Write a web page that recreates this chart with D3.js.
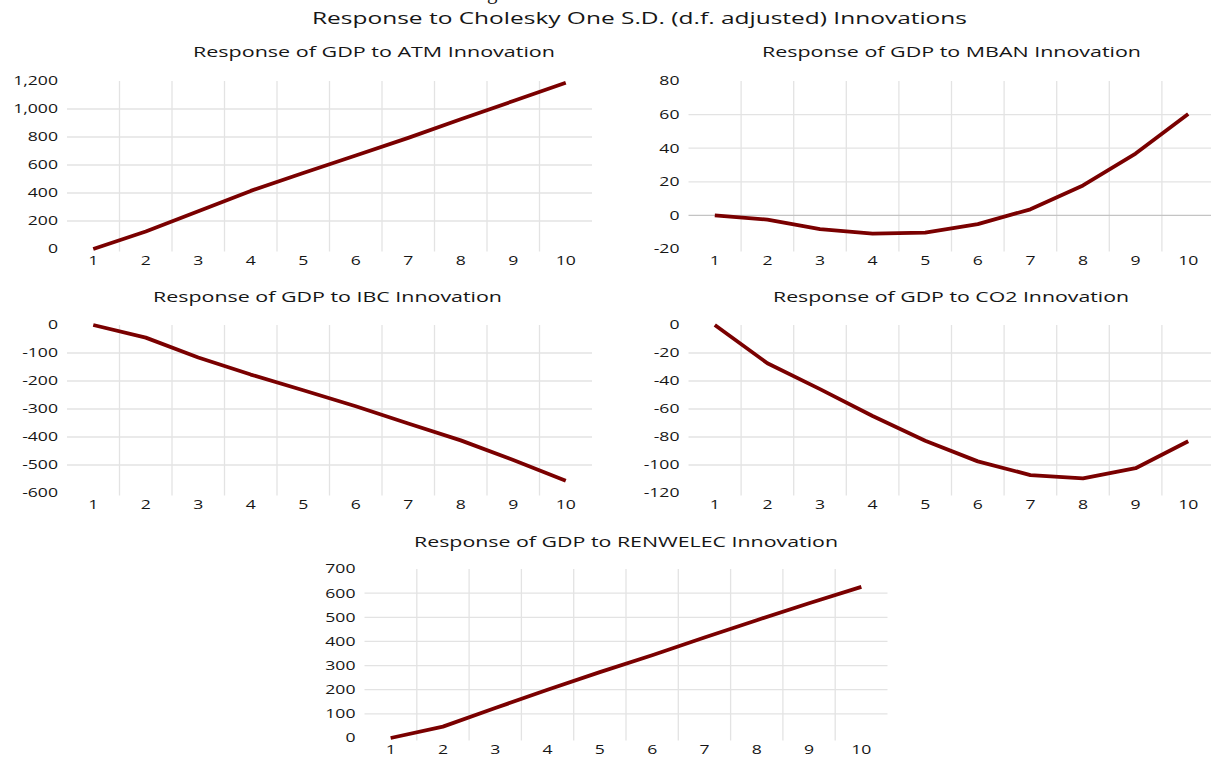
<!DOCTYPE html>
<html>
<head>
<meta charset="utf-8">
<script src="https://cdn.jsdelivr.net/npm/d3@7"></script>
<style>
  html, body { margin: 0; padding: 0; background: #ffffff; }
  svg { display: block; }
  text { font-family: "Open Sans", "Liberation Sans", sans-serif; fill: #161616; }
</style>
</head>
<body>
<svg id="chart" width="1211" height="757"></svg>
<script>
// ---------------- data ----------------
const mainTitle = "Response to Cholesky One S.D. (d.f. adjusted) Innovations";
const steps = ["1", "2", "3", "4", "5", "6", "7", "8", "9", "10"];

const atmTitle = "Response of GDP to ATM Innovation";
const atmValues = [0, 125, 270, 415, 543, 668, 794, 927, 1057, 1188];
const atmTicks = [0, 200, 400, 600, 800, 1000, 1200];

const mbanTitle = "Response of GDP to MBAN Innovation";
const mbanValues = [0, -2.5, -8.2, -10.8, -10.2, -5.2, 3.6, 17.8, 36.8, 60.3];
const mbanTicks = [-20, 0, 20, 40, 60, 80];

const ibcTitle = "Response of GDP to IBC Innovation";
const ibcValues = [0, -45, -116, -177, -233, -290, -352, -412, -482, -556];
const ibcTicks = [-600, -500, -400, -300, -200, -100, 0];

const co2Title = "Response of GDP to CO2 Innovation";
const co2Values = [0, -27.3, -45.8, -65, -82.7, -97.4, -107.2, -109.6, -102.3, -83];
const co2Ticks = [-120, -100, -80, -60, -40, -20, 0];

const renTitle = "Response of GDP to RENWELEC Innovation";
const renValues = [0, 47, 124, 200, 273, 343, 416, 488, 558, 626];
const renTicks = [0, 100, 200, 300, 400, 500, 600, 700];

// ---------------- layout ----------------
const SX = 1.42;            // horizontal stretch of the reference glyphs
const LINE_COLOR = "#7a0000";
const GRID_COLOR = "#e3e3e3";
const ZERO_COLOR = "#c4c4c4";

const loc = d3.formatLocale({decimal: ".", thousands: ",", grouping: [3], currency: ["", ""], minus: "-"});
const fmt = loc.format(",");

const svg = d3.select("#chart");

// fragment of a caption cut off by the top edge
svg.append("text").attr("x", 487).attr("y", -1)
  .style("font-family", "Liberation Serif, serif").style("font-size", "21px").text("g");

svg.append("text")
  .attr("x", 312).attr("y", 19).attr("dy", "0.35em")
  .attr("textLength", 655).attr("lengthAdjust", "spacingAndGlyphs")
  .style("font-size", "15.5px")
  .text(mainTitle);

const panels = [
  {title: atmTitle, values: atmValues, ticks: atmTicks, x0: 67, x1: 592, y0: 81, y1: 249, tx: 193, tw: 362, ty: 52},
  {title: mbanTitle, values: mbanValues, ticks: mbanTicks, x0: 688.5, x1: 1214.5, y0: 81, y1: 249, tx: 762, tw: 379, ty: 52},
  {title: ibcTitle, values: ibcValues, ticks: ibcTicks, x0: 67, x1: 592, y0: 325, y1: 493, tx: 153, tw: 349, ty: 297},
  {title: co2Title, values: co2Values, ticks: co2Ticks, x0: 688.5, x1: 1214.5, y0: 325, y1: 493, tx: 773, tw: 356, ty: 297},
  {title: renTitle, values: renValues, ticks: renTicks, x0: 364.5, x1: 887.5, y0: 569, y1: 738, tx: 414, tw: 424, ty: 542}
];

function stretchedText(g, x, y, str, anchor) {
  g.append("g").attr("transform", `translate(${x},${y})`)
    .append("text")
    .attr("transform", `scale(${SX},1)`)
    .attr("text-anchor", anchor)
    .attr("dy", "0.36em")
    .style("font-size", "12.4px")
    .text(str);
}

panels.forEach(p => {
  const g = svg.append("g");
  const x = d3.scaleBand().domain(steps).range([p.x0, p.x1]).paddingInner(0).paddingOuter(0);
  const y = d3.scaleLinear().domain(d3.extent(p.ticks)).range([p.y1, p.y0]);

  // panel title
  g.append("text")
    .attr("x", p.tx).attr("y", p.ty).attr("dy", "0.35em")
    .attr("textLength", p.tw).attr("lengthAdjust", "spacingAndGlyphs")
    .style("font-size", "14.5px")
    .text(p.title);

  // horizontal gridlines (interior only)
  const lo = d3.min(p.ticks), hi = d3.max(p.ticks);
  g.selectAll(".hg").data(p.ticks.filter(t => t !== lo && t !== hi && t !== 0)).join("line")
    .attr("x1", p.x0).attr("x2", p.x1)
    .attr("y1", d => y(d)).attr("y2", d => y(d))
    .attr("stroke", GRID_COLOR).attr("stroke-width", 1.3);

  // vertical gridlines at category boundaries
  g.selectAll(".vg").data(steps.slice(1)).join("line")
    .attr("x1", d => x(d)).attr("x2", d => x(d))
    .attr("y1", p.y0).attr("y2", p.y1 + 2.5)
    .attr("stroke", GRID_COLOR).attr("stroke-width", 1.3);

  // zero line when inside
  if (lo < 0 && hi > 0) {
    g.append("line")
      .attr("x1", p.x0).attr("x2", p.x1)
      .attr("y1", y(0)).attr("y2", y(0))
      .attr("stroke", ZERO_COLOR).attr("stroke-width", 1.3);
  }

  // y tick labels
  p.ticks.forEach(t => stretchedText(g, p.x0 - 9, y(t), fmt(t), "end"));
  // x tick labels
  steps.forEach(s => stretchedText(g, x(s) + x.bandwidth() / 2, p.y1 + 12, s, "middle"));

  // series
  const line = d3.line()
    .x((d, i) => x(steps[i]) + x.bandwidth() / 2)
    .y(d => y(d));
  g.append("path").datum(p.values)
    .attr("d", line)
    .attr("fill", "none")
    .attr("stroke", LINE_COLOR)
    .attr("stroke-width", 3.8)
    .attr("stroke-linejoin", "round");
});
</script>
</body>
</html>
